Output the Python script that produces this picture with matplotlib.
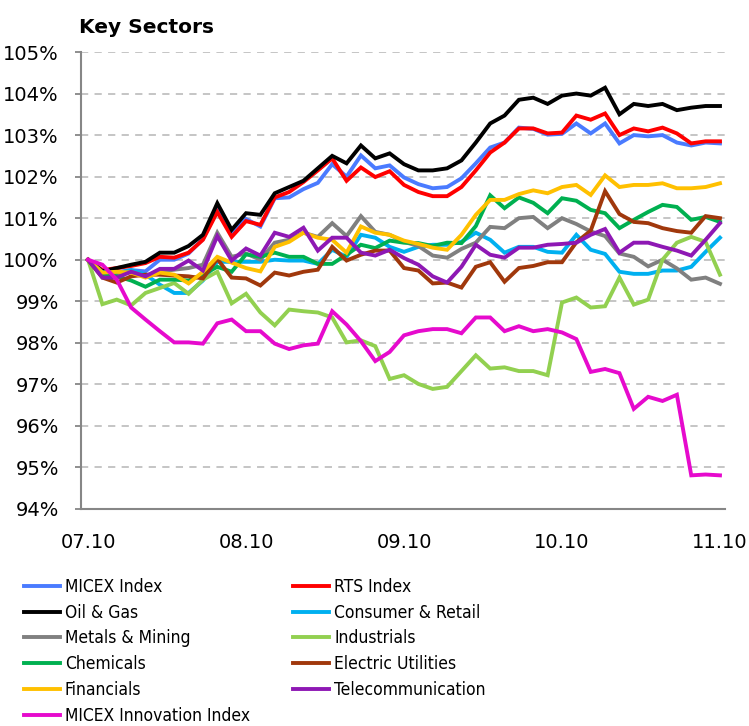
import numpy as np
import matplotlib
matplotlib.use('Agg')
import matplotlib.pyplot as plt
from matplotlib.ticker import FuncFormatter
from matplotlib import font_manager

# month labels on the x axis (every 11th point)
month_labels = ['07.10', '08.10', '09.10', '10.10', '11.10']

names = ['MICEX Index', 'RTS Index', 'Oil & Gas', 'Consumer & Retail',
         'Metals & Mining', 'Industrials', 'Chemicals', 'Electric Utilities',
         'Financials', 'Telecommunication', 'MICEX Innovation Index']

colors = ['#4A7BFF', '#FF0000', '#000000', '#00B0F0',
          '#808080', '#92D050', '#00B050', '#A0380C',
          '#FFC000', '#8E18B4', '#E60ACD']

# values in % of start level
micex = [100, 99.7, 99.7, 99.75, 99.72, 100.0, 100.0, 100.15, 100.5, 101.2, 100.65,
         100.98, 100.8, 101.48, 101.5, 101.7, 101.85, 102.3, 102.0, 102.51, 102.2,
         102.27, 101.98, 101.82, 101.72, 101.75, 101.96, 102.32, 102.7, 102.82, 103.18,
         103.15, 103.01, 103.03, 103.28, 103.04, 103.28, 102.8, 103.0, 102.97, 103.0,
         102.82, 102.75, 102.82, 102.8]
rts = [100, 99.75, 99.8, 99.85, 99.92, 100.07, 100.05, 100.17, 100.48, 101.15, 100.55,
       100.93, 100.84, 101.5, 101.63, 101.87, 102.15, 102.44, 101.9, 102.22, 101.99,
       102.13, 101.8, 101.63, 101.53, 101.53, 101.75, 102.15, 102.58, 102.82, 103.16,
       103.16, 103.04, 103.06, 103.47, 103.37, 103.52, 103.0, 103.16, 103.09, 103.18,
       103.04, 102.8, 102.85, 102.85]
oil_gas = [100, 99.72, 99.8, 99.88, 99.95, 100.17, 100.17, 100.33, 100.6, 101.36, 100.72,
           101.12, 101.08, 101.6, 101.75, 101.9, 102.2, 102.5, 102.32, 102.75, 102.44,
           102.56, 102.3, 102.15, 102.15, 102.2, 102.39, 102.82, 103.28, 103.47, 103.85,
           103.9, 103.75, 103.95, 104.0, 103.95, 104.14, 103.5, 103.75, 103.7, 103.75,
           103.6, 103.66, 103.7, 103.7]
consumer = [100, 99.7, 99.68, 99.75, 99.64, 99.4, 99.2, 99.2, 99.5, 99.95, 99.95,
            99.95, 99.95, 100.0, 99.98, 99.98, 99.9, 100.24, 100.07, 100.6, 100.53,
            100.31, 100.19, 100.31, 100.36, 100.36, 100.43, 100.65, 100.48, 100.17, 100.31,
            100.31, 100.19, 100.17, 100.6, 100.24, 100.14, 99.71, 99.66, 99.66, 99.74,
            99.74, 99.83, 100.19, 100.53]
metals = [100, 99.65, 99.65, 99.71, 99.6, 99.71, 99.76, 99.8, 99.88, 100.65, 100.07,
          100.15, 100.0, 100.41, 100.48, 100.65, 100.55, 100.88, 100.57, 101.05, 100.67,
          100.6, 100.43, 100.33, 100.1, 100.05, 100.26, 100.41, 100.79, 100.76, 101.0,
          101.03, 100.76, 101.0, 100.86, 100.68, 100.57, 100.15, 100.07, 99.84, 100.0,
          99.79, 99.52, 99.57, 99.42]
industrials = [100, 98.93, 99.04, 98.9, 99.2, 99.32, 99.44, 99.18, 99.52, 99.71, 98.95,
               99.18, 98.73, 98.42, 98.8, 98.76, 98.73, 98.61, 98.01, 98.06, 97.92,
               97.13, 97.22, 97.01, 96.89, 96.94, 97.32, 97.7, 97.38, 97.41, 97.32,
               97.32, 97.22, 98.97, 99.09, 98.85, 98.88, 99.57, 98.92, 99.04, 100.0,
               100.41, 100.55, 100.43, 99.64]
chemicals = [100, 99.64, 99.6, 99.5, 99.35, 99.52, 99.52, 99.5, 99.64, 99.83, 99.71,
             100.13, 100.07, 100.17, 100.07, 100.07, 99.9, 99.9, 100.12, 100.36, 100.28,
             100.46, 100.41, 100.4, 100.33, 100.41, 100.4, 100.81, 101.55, 101.24, 101.5,
             101.37, 101.12, 101.48, 101.42, 101.2, 101.12, 100.76, 100.96, 101.15, 101.32,
             101.27, 100.96, 101.03, 100.91]
electric = [100, 99.57, 99.45, 99.6, 99.64, 99.64, 99.62, 99.6, 99.55, 100.02, 99.57,
            99.55, 99.38, 99.69, 99.62, 99.71, 99.76, 100.31, 99.98, 100.12, 100.22,
            100.22, 99.8, 99.74, 99.43, 99.45, 99.33, 99.83, 99.94, 99.47, 99.8,
            99.85, 99.94, 99.94, 100.42, 100.7, 101.65, 101.1, 100.91, 100.88, 100.76,
            100.69, 100.65, 101.05, 101.0]
financials = [100, 99.69, 99.71, 99.69, 99.57, 99.69, 99.64, 99.43, 99.71, 100.07, 99.93,
              99.8, 99.72, 100.31, 100.43, 100.65, 100.53, 100.48, 100.17, 100.8, 100.65,
              100.6, 100.46, 100.38, 100.29, 100.24, 100.6, 101.08, 101.44, 101.44, 101.58,
              101.67, 101.6, 101.75, 101.8, 101.56, 102.03, 101.75, 101.8, 101.8, 101.84,
              101.72, 101.72, 101.75, 101.84]
telecom = [100, 99.57, 99.57, 99.71, 99.6, 99.78, 99.78, 99.98, 99.74, 100.57, 99.98,
           100.27, 100.1, 100.65, 100.55, 100.77, 100.22, 100.53, 100.53, 100.17, 100.1,
           100.24, 100.04, 99.88, 99.6, 99.45, 99.83, 100.36, 100.12, 100.05, 100.29,
           100.29, 100.36, 100.38, 100.41, 100.6, 100.74, 100.17, 100.41, 100.41, 100.31,
           100.22, 100.1, 100.48, 100.88]
innovation = [100, 99.88, 99.52, 98.85, 98.56, 98.28, 98.01, 98.01, 97.98, 98.47, 98.56,
              98.28, 98.28, 97.98, 97.85, 97.94, 97.98, 98.76, 98.44, 98.04, 97.56,
              97.78, 98.18, 98.28, 98.33, 98.33, 98.23, 98.61, 98.61, 98.28, 98.4,
              98.28, 98.33, 98.25, 98.09, 97.3, 97.37, 97.27, 96.41, 96.7, 96.6,
              96.75, 94.81, 94.83, 94.81]

series = [micex, rts, oil_gas, consumer, metals, industrials,
          chemicals, electric, financials, telecom, innovation]

# legend text in the original is a narrow face; use one if there is one
fonts = font_manager.fontManager.ttflist
if any(f.name == 'Liberation Sans Narrow' for f in fonts):
    leg_prop = {'family': 'Liberation Sans Narrow', 'size': 14}
elif any(f.name == 'DejaVu Sans' and f.stretch == 'condensed' for f in fonts):
    leg_prop = {'family': 'DejaVu Sans', 'stretch': 'condensed', 'size': 12.5}
else:
    leg_prop = {'family': 'Liberation Sans', 'size': 11.3}

fig = plt.figure(figsize=(7.49, 7.26), dpi=100)
ax = fig.add_axes([81 / 749, 1 - 509 / 726, (725 - 81) / 749, (509 - 52) / 726])

x = np.arange(len(micex))
lines = []
for name, vals, c in zip(names, series, colors):
    ln, = ax.plot(x, vals, color=c, lw=2.8, label=name, solid_joinstyle='miter')
    lines.append(ln)

ax.set_xlim(-0.49, 44.35)
ax.set_ylim(94, 105)
ax.set_yticks(np.arange(94, 106, 1))
ax.yaxis.set_major_formatter(FuncFormatter(lambda v, p: '%d%%' % round(v)))
ax.set_xticks(np.arange(0, 45, 11))
ax.set_xticklabels(month_labels)

ax.yaxis.grid(True, color='#C0C0C0', lw=1.3, linestyle=(0, (4, 3.5)))
ax.set_axisbelow(True)
for s in ['top', 'right']:
    ax.spines[s].set_visible(False)
for s in ['left', 'bottom']:
    ax.spines[s].set_color('#868686')
    ax.spines[s].set_linewidth(1.5)
ax.tick_params(axis='y', length=4, width=1.3, color='#868686', pad=12, labelsize=14)
ax.tick_params(axis='x', length=0, pad=17, labelsize=14)

fig.text(79 / 749, 1 - 33 / 726, 'Key Sectors', fontsize=14.5, fontweight='bold',
         va='baseline', ha='left')

# legend goes row by row: left column = even items, right column = odd items
order = list(range(0, 11, 2)) + list(range(1, 11, 2))
fs = leg_prop['size'] * 100 / 72.0
fig.legend([lines[i] for i in order], [names[i] for i in order],
           loc='upper left', bbox_to_anchor=(24 / 749, 1 - 578 / 726),
           ncol=2, frameon=False, borderpad=0, borderaxespad=0,
           handlelength=36 / fs, handletextpad=5 / fs, columnspacing=43 / fs,
           labelspacing=(25.1 - 1.0 * fs) / fs, prop=leg_prop)

fig.savefig('out.png', dpi=100)
